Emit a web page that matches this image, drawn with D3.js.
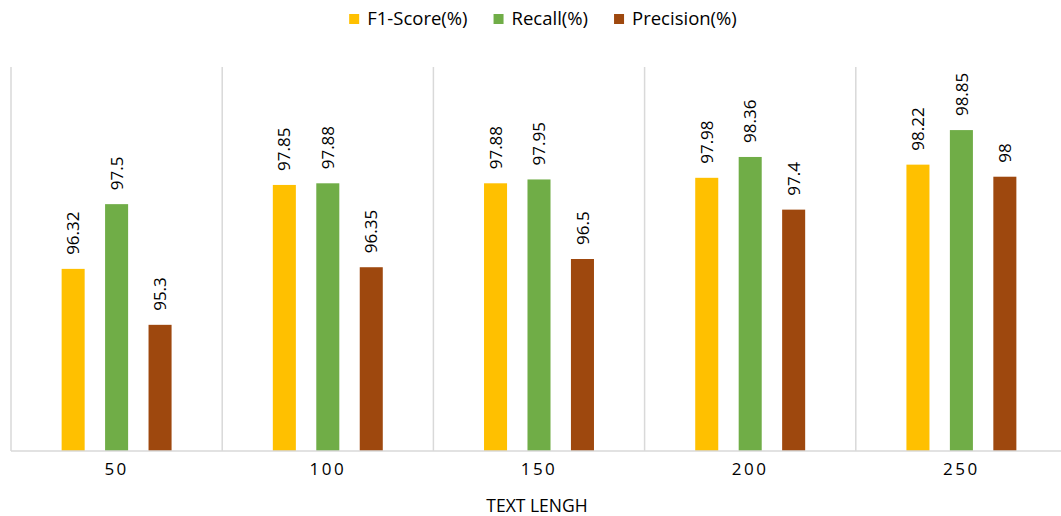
<!DOCTYPE html>
<html>
<head>
<meta charset="utf-8">
<script src="https://cdn.jsdelivr.net/npm/d3@7"></script>
<style>
  html, body { margin: 0; padding: 0; background: #fff; }
  svg { display: block; font-family: "Open Sans", sans-serif; }
</style>
</head>
<body>
<svg id="chart" width="1061" height="516"></svg>
<script>
const categories = ["50", "100", "150", "200", "250"];
const seriesNames = ["F1-Score(%)", "Recall(%)", "Precision(%)"];
const f1Score = [96.32, 97.85, 97.88, 97.98, 98.22];
const recall = [97.5, 97.88, 97.95, 98.36, 98.85];
const precision = [95.3, 96.35, 96.5, 97.4, 98];
const colors = ["#FFC000", "#70AD47", "#9E480E"];
const xTitle = "TEXT LENGH";
const yDomain = [93, 100];

const seriesValues = [f1Score, recall, precision];

const svg = d3.select("#chart");
const margin = { left: 11, right: -6, top: 67, bottom: 65 };
const W = 1061, H = 516;
const plotRight = W - margin.right;
const plotBottom = H - margin.bottom;

const x0 = d3.scaleBand().domain(categories).range([margin.left, plotRight]).padding(0);
const x1 = d3.scaleBand().domain(seriesNames).range([0, x0.bandwidth()])
  .paddingInner(0.47).paddingOuter(1.165);
const y = d3.scaleLinear().domain(yDomain).range([plotBottom, margin.top]);

// vertical separators
const bounds = categories.map(c => x0(c)).concat([x0(categories[categories.length - 1]) + x0.bandwidth()]);
svg.append("g").selectAll("line").data(bounds).join("line")
  .attr("x1", d => d).attr("x2", d => d)
  .attr("y1", margin.top).attr("y2", plotBottom)
  .attr("stroke", "#D9D9D9").attr("stroke-width", 1.5);

// bars
const gCat = svg.append("g").selectAll("g").data(categories).join("g")
  .attr("transform", c => `translate(${x0(c)},0)`);

gCat.each(function (c, ci) {
  const g = d3.select(this);
  const rows = seriesNames.map((s, si) => ({ s, si, v: seriesValues[si][ci] }));
  g.selectAll("rect").data(rows).join("rect")
    .attr("x", d => x1(d.s))
    .attr("width", x1.bandwidth())
    .attr("y", d => y(d.v))
    .attr("height", d => plotBottom - y(d.v))
    .attr("fill", d => colors[d.si]);
  g.selectAll("text").data(rows).join("text")
    .attr("transform", d => `translate(${x1(d.s) + x1.bandwidth() / 2},${y(d.v) - 14}) rotate(-90)`)
    .attr("dy", "0.36em")
    .attr("text-anchor", "start")
    .attr("font-size", 17)
    .attr("fill", "#000")
    .text(d => String(d.v));
});

// x axis
const xAxis = d3.axisBottom(x0).tickSize(0).tickPadding(12);
const ax = svg.append("g").attr("transform", `translate(0,${plotBottom})`).call(xAxis);
ax.select(".domain").attr("stroke", "#D9D9D9").attr("stroke-width", 1.5)
  .attr("d", `M${margin.left},0H${plotRight}`);
ax.selectAll("text").attr("font-family", "Open Sans, sans-serif").attr("font-size", 17)
  .attr("letter-spacing", "2.5px").attr("fill", "#000");

svg.append("text").attr("x", 537).attr("y", 512).attr("text-anchor", "middle")
  .attr("font-size", 17.5).attr("fill", "#000").text(xTitle);

// legend
const legend = svg.append("g");
const items = legend.selectAll("g").data(seriesNames).join("g");
items.append("rect").attr("width", 10).attr("height", 10).attr("y", -5)
  .attr("fill", (d, i) => colors[i]);
items.append("text").attr("x", 18).attr("dy", "0.35em").attr("font-size", 18.5)
  .attr("fill", "#000").text(d => d);
let cx = 0;
const widths = [];
items.each(function () { widths.push(this.getBBox().width); });
items.attr("transform", (d, i) => { const t = `translate(${cx},19)`; cx += widths[i] + 26; return t; });
const total = cx - 26;
legend.attr("transform", `translate(${543 - total / 2},0)`);
</script>
</body>
</html>
